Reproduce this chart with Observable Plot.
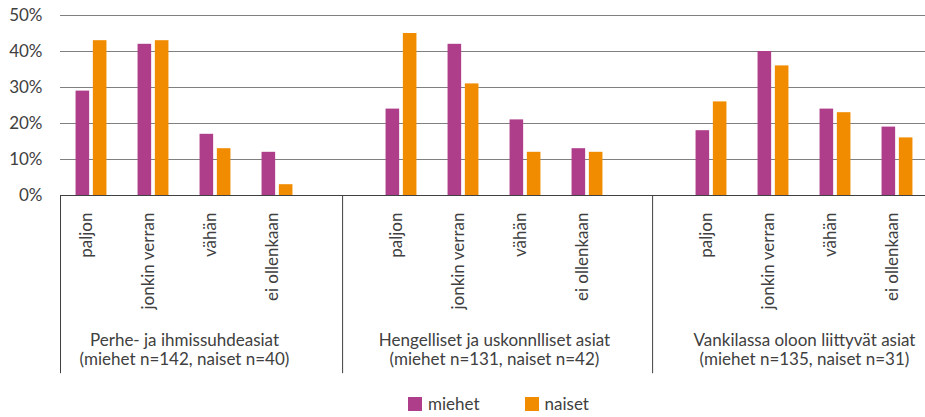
<!DOCTYPE html>
<html>
<head>
<meta charset="utf-8">
<script src="https://cdn.jsdelivr.net/npm/d3@7"></script>
<script src="https://cdn.jsdelivr.net/npm/@observablehq/plot@0.6"></script>
<style>
  body { margin: 0; background: #fff; }
  #chart { position: relative; width: 925px; height: 417px; font-family: Lato, "Open Sans", sans-serif; color: #404040; }
  .legend { position: absolute; top: 395px; left: 0; width: 925px; height: 18px; display: flex; align-items: center; padding-left: 408px; box-sizing: border-box; font-size: 17px; line-height: 18px; }
  .legend .item { display: flex; align-items: center; margin-right: 45px; }
  .legend .sw { width: 14px; height: 14px; margin-right: 6px; }
</style>
</head>
<body>
<div id="chart"></div>
<script>
// ---- data ----
const groups = ["Perhe- ja ihmissuhdeasiat", "Hengelliset ja uskonnlliset asiat", "Vankilassa oloon liittyvät asiat"];
const groupN = ["(miehet n=142, naiset n=40)", "(miehet n=131, naiset n=42)", "(miehet n=135, naiset n=31)"];
const categories = ["paljon", "jonkin verran", "vähän", "ei ollenkaan"];
const series = ["miehet", "naiset"];
const miehet = [29, 42, 17, 12, 24, 42, 21, 13, 18, 40, 24, 19];
const naiset = [43, 43, 13, 3, 45, 31, 12, 12, 26, 36, 23, 16];
const yTicks = [0, 10, 20, 30, 40, 50];
const colors = ["#AE3E8A", "#F18C00"];

// ---- layout helpers (slot units: one category per slot, one empty slot after each group) ----
const slotsPerGroup = categories.length + 1;
const barW = 13.6 / 62, halfGap = 1.85 / 62, sepOffset = 0.05;
const rows = [];
const catRows = [];
groups.forEach((g, gi) => categories.forEach((c, ci) => {
  const i = gi * categories.length + ci;
  const pos = gi * slotsPerGroup + ci + 0.5;
  catRows.push({category: c, pos});
  rows.push({series: series[0], value: miehet[i], x1: pos - halfGap - barW, x2: pos - halfGap});
  rows.push({series: series[1], value: naiset[i], x1: pos + halfGap, x2: pos + halfGap + barW});
}));
const groupRows = groups.map((g, gi) => {
  const ps = catRows.slice(gi * categories.length, (gi + 1) * categories.length).map(d => d.pos);
  return {label: g + "\n" + groupN[gi], pos: d3.mean(ps)};
});
const boundaries = [0, ...groups.slice(0, -1).map((g, gi) => gi * slotsPerGroup + categories.length + 0.5 + sepOffset)];
const lineBottom = -49.5;

const chart = Plot.plot({
  width: 925,
  height: 385,
  marginLeft: 60,
  marginRight: 0,
  marginTop: 15,
  marginBottom: 190,
  style: {fontFamily: "Lato, 'Open Sans', sans-serif", fontSize: "17px", color: "#404040", background: "#fff", overflow: "visible"},
  x: {type: "linear", domain: [0, groups.length * slotsPerGroup - 1], range: [60, 928], axis: null},
  y: {domain: [0, 50], axis: null},
  color: {domain: series, range: colors},
  marks: [
    Plot.ruleY(yTicks.filter(t => t > 0), {stroke: "#808080", strokeWidth: 1}),
    Plot.axisY(yTicks, {tickSize: 0, tickPadding: 18, tickFormat: d => d + "%", fontSize: 17, label: null}),
    Plot.rectY(rows, {x1: "x1", x2: "x2", y1: 0, y2: "value", fill: "series"}),
    Plot.ruleY([0], {stroke: "#404040", strokeWidth: 1}),
    Plot.ruleX(boundaries, {x: d => d, y1: 0, y2: lineBottom, stroke: "#404040", strokeWidth: 1}),
    Plot.text(catRows, {x: "pos", frameAnchor: "bottom", dy: 17, rotate: -90, textAnchor: "end", text: "category", fontSize: 17}),
    Plot.text(groupRows, {x: "pos", frameAnchor: "bottom", dy: 136, lineAnchor: "top", text: "label", lineHeight: 1.16, fontSize: 17, ariaLabel: "group-labels"})
  ]
});
const root = document.getElementById("chart");
root.appendChild(chart);

// keep group labels inside the chart
const svgRect = chart.getBoundingClientRect();
chart.querySelectorAll('g[aria-label="group-labels"] text').forEach(t => {
  const r = t.getBoundingClientRect();
  const over = r.right - svgRect.left - 921;
  if (over > 0) t.setAttribute("transform", ((t.getAttribute("transform") || "") + ` translate(${-over},0)`).trim());
});

// legend
const legend = document.createElement("div");
legend.className = "legend";
series.forEach((s, i) => {
  const item = document.createElement("div");
  item.className = "item";
  const sw = document.createElement("span");
  sw.className = "sw";
  sw.style.background = colors[i];
  const tx = document.createElement("span");
  tx.textContent = s;
  item.appendChild(sw); item.appendChild(tx);
  legend.appendChild(item);
});
root.appendChild(legend);
</script>
</body>
</html>
